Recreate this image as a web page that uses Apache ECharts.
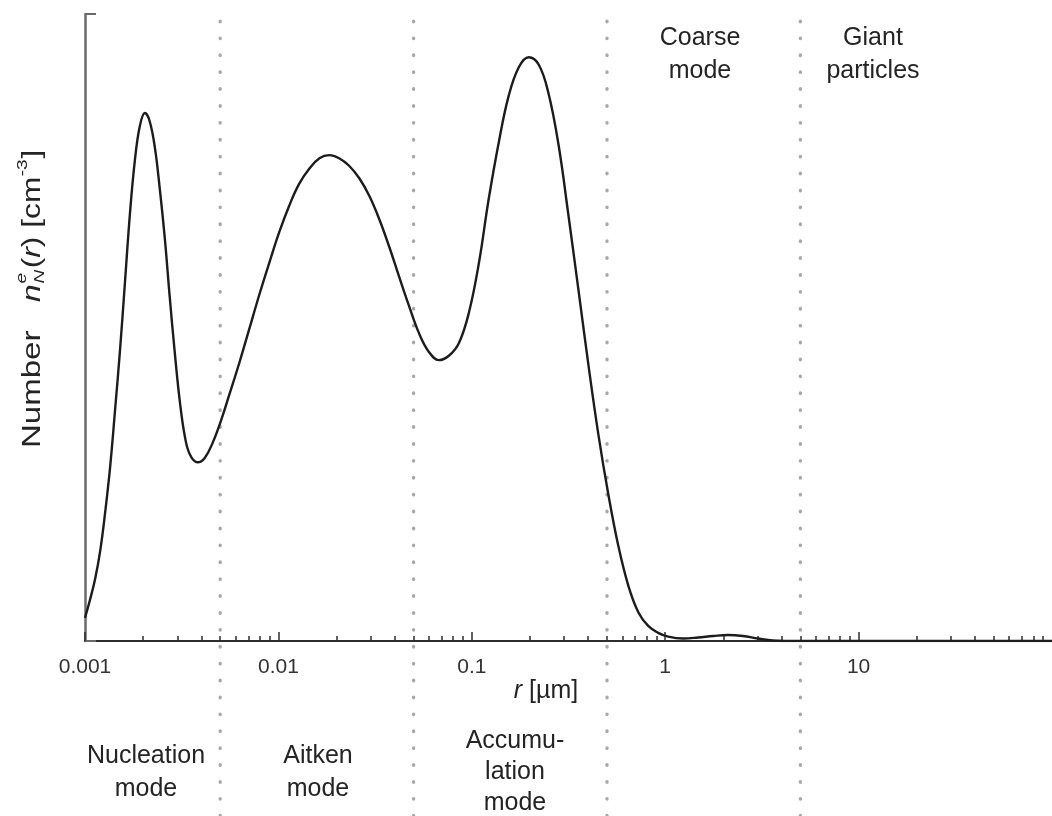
<!DOCTYPE html>
<html>
<head>
<meta charset="utf-8">
<script src="https://cdn.jsdelivr.net/npm/echarts@6/dist/echarts.min.js"></script>
<style>
  html, body { margin: 0; padding: 0; background: #fff; }
  #chart { width: 1052px; height: 816px; }
</style>
</head>
<body>
<div id="chart"></div>
<script>
// Particle radius r [µm] along the size distribution
const radius = [
  0.001, 0.00106, 0.00113, 0.0012, 0.00127, 0.00135, 0.00143, 0.00152, 0.00161, 0.00171,
  0.00181, 0.00192, 0.00204, 0.00216, 0.0023, 0.00244, 0.00259, 0.00274, 0.00291, 0.00309,
  0.00328, 0.00348, 0.00382, 0.00416, 0.00457, 0.00508, 0.00559, 0.0063, 0.00709, 0.00798,
  0.00899, 0.0101, 0.0114, 0.0128, 0.0145, 0.0163, 0.0183, 0.0206, 0.0232, 0.0262,
  0.0295, 0.0332, 0.0373, 0.042, 0.0474, 0.0533, 0.06, 0.0676, 0.0761, 0.0857,
  0.0965, 0.109, 0.122, 0.138, 0.155, 0.175, 0.197, 0.222, 0.249, 0.281,
  0.316, 0.356, 0.401, 0.451, 0.508, 0.572, 0.645, 0.726, 0.817, 0.92,
  1.036, 1.238, 1.48, 1.768, 2.112, 2.524, 3.016, 3.604, 4.85, 10, 100
];
// Number size distribution (arbitrary units)
const number = [
  3.7, 6.5, 10.0, 14.5, 20.4, 27.9, 36.8, 46.7, 57.3, 68.4,
  76.6, 82.1, 84.2, 82.9, 78.6, 71.9, 64.0, 55.0, 46.1, 38.3,
  32.7, 29.8, 28.5, 29.2, 31.6, 35.4, 39.4, 44.5, 49.9, 55.3,
  60.4, 65.2, 69.5, 72.9, 75.4, 77.0, 77.5, 77.0, 75.8, 73.8,
  71.0, 67.3, 63.0, 58.2, 53.4, 49.1, 46.1, 44.8, 45.5, 47.5,
  52.3, 60.4, 70.3, 79.6, 86.9, 91.5, 93.1, 91.9, 87.4, 79.1,
  67.9, 56.0, 44.0, 33.0, 23.4, 15.2, 8.8, 4.6, 2.4, 1.3,
  0.7, 0.4, 0.56, 0.8, 0.96, 0.8, 0.4, 0.08, 0, 0, 0
];
// Radii separating the size modes
const modeBoundaries = [0.005, 0.05, 0.5, 5];
// Decade tick labels
const tickLabels = ['0.001', '0.01', '0.1', '1', '10'];
// Mode names
const modeTop = ['Coarse\nmode', 'Giant\nparticles'];
const modeBottom = ['Nucleation\nmode', 'Aitken\nmode', 'Accumu-\nlation\nmode'];

// Minor ticks at 2..9 of every decade
const minorTicks = [];
for (let d = -3; d <= 1; d++) {
  for (let k = 2; k <= 9; k++) minorTicks.push(+(k * Math.pow(10, d)).toPrecision(3));
}

const FONT = '"Liberation Sans", Arial, Helvetica, sans-serif';
const INK = '#242424';

const chart = echarts.init(document.getElementById('chart'), null, { renderer: 'canvas' });

function txt(x, y, text, size, extra) {
  return {
    type: 'text', x: x, y: y, silent: true,
    style: Object.assign({
      text: text, fontSize: size, fontFamily: FONT, fill: INK,
      align: 'left', verticalAlign: 'middle'
    }, extra || {})
  };
}

// Vertical dotted separators between the modes, one line series each
const boundarySeries = modeBoundaries.map(v => ({
  type: 'line', xAxisIndex: 2, yAxisIndex: 1,
  data: [[v, 0], [v, 1]],
  symbol: 'none', silent: true, z: 1,
  lineStyle: { type: [0.5, 16.4], cap: 'round', width: 3.4, color: '#a9a9a9' }
}));

const option = {
  animation: false,
  backgroundColor: '#ffffff',
  grid: [
    { left: 85, top: 14, width: 970, height: 627 },
    { left: 85, top: 12, width: 970, height: 804 }
  ],
  xAxis: [
    {
      type: 'log', logBase: 10, gridIndex: 0, min: 0.001, max: 100, position: 'bottom',
      axisLine: { onZero: false, lineStyle: { color: '#2e2e2e', width: 2 } },
      axisTick: { inside: true, length: 9, lineStyle: { color: '#2e2e2e', width: 1.5 } },
      axisLabel: {
        margin: 16, fontSize: 21, fontFamily: FONT, color: '#333',
        showMaxLabel: false,
        formatter: function (v) {
          const s = tickLabels.find(t => Math.abs(parseFloat(t) - v) < v * 1e-6);
          return s || '';
        }
      },
      splitLine: { show: false }
    },
    {
      type: 'log', logBase: 10, gridIndex: 0, min: 0.001, max: 100, position: 'bottom',
      axisLine: { show: false, onZero: false },
      axisTick: { inside: true, length: 5, customValues: minorTicks, lineStyle: { color: '#2e2e2e', width: 1.5 } },
      axisLabel: { show: false },
      splitLine: { show: false }
    },
    { type: 'log', logBase: 10, gridIndex: 1, min: 0.001, max: 100, show: false }
  ],
  yAxis: [
    {
      type: 'value', gridIndex: 0, min: 0, max: 100, interval: 100,
      axisLine: { show: true, onZero: false, lineStyle: { color: '#6a6a6a', width: 2.5 } },
      axisTick: { show: true, inside: true, length: 11, lineStyle: { color: '#6a6a6a', width: 2 } },
      axisLabel: { show: false },
      splitLine: { show: false }
    },
    { type: 'value', gridIndex: 1, min: 0, max: 1, show: false }
  ],
  series: [
    {
      type: 'line', xAxisIndex: 0, yAxisIndex: 0,
      data: radius.map((r, i) => [r, number[i]]),
      smooth: 0.4, symbol: 'none', z: 5,
      lineStyle: { color: '#1c1c1c', width: 2.4 }
    }
  ].concat(boundarySeries),
  graphic: [
    {
      type: 'group', x: 33, y: 448, rotation: Math.PI / 2, scaleX: 1.27, silent: true,
      children: [
        txt(0, 0, 'Number', 26),
        txt(115, 0, 'n', 25, { fontStyle: 'italic' }),
        txt(129.5, -11, 'e', 15, { fontStyle: 'italic' }),
        txt(129.5, 7, 'N', 15, { fontStyle: 'italic' }),
        txt(141.5, 0, '({i|r}) [cm', 25, {
          rich: { i: { fontStyle: 'italic', fontSize: 25, fontFamily: FONT, fill: INK } }
        }),
        txt(214, -10, '-3', 15),
        txt(228, 0, ']', 25)
      ]
    },
    txt(700, 55, modeTop[0], 25, { align: 'center', lineHeight: 33 }),
    txt(873, 55, modeTop[1], 25, { align: 'center', lineHeight: 33 }),
    txt(146, 773, modeBottom[0], 25, { align: 'center', lineHeight: 33 }),
    txt(318, 773, modeBottom[1], 25, { align: 'center', lineHeight: 33 }),
    txt(515, 772, modeBottom[2], 25, { align: 'center', lineHeight: 31 }),
    txt(546, 691, '{i|r} [µm]', 25, {
      align: 'center',
      rich: { i: { fontStyle: 'italic', fontSize: 25, fontFamily: FONT, fill: INK } }
    })
  ]
};

chart.setOption(option);
</script>
</body>
</html>
